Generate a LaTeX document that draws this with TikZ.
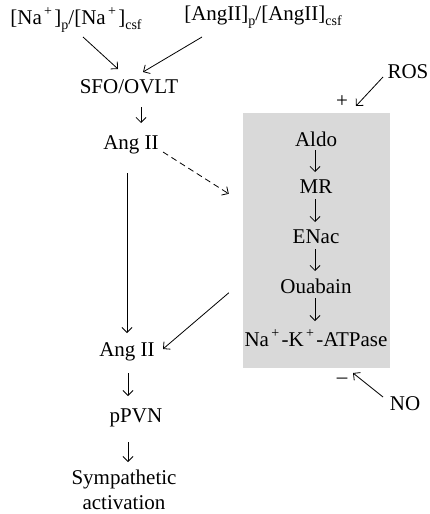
\documentclass[tikz,border=0pt]{standalone}
\usepackage{fontspec}
\setmainfont{Liberation Serif}
\usetikzlibrary{arrows.meta}
\definecolor{boxgray}{RGB}{217,217,217}
\newcommand{\sopl}{\raisebox{0.45em}{\fontsize{14}{14}\selectfont\,+\,}}
\newcommand{\subl}[1]{\raisebox{-0.25em}{\fontsize{14}{14}\selectfont #1}}
\tikzset{
  lbl/.style={inner sep=0pt, font=\fontsize{21}{25}\selectfont},
  conn/.style={line width=0.8pt, -{Straight Barb[length=5pt,width=10pt]}},
  dconn/.style={conn, dash pattern=on 6pt off 4pt},
  graybox/.style={fill=boxgray, draw=none, minimum width=147pt, minimum height=255pt, inner sep=0pt}
}
\begin{document}
\begin{tikzpicture}[x=1pt,y=1pt]
\useasboundingbox (0,0) rectangle (430,-514);
\node[graybox] (box) at (316.5,-240.5) {};
\node[lbl] (na) at (76,-20) {[Na\sopl]\subl{p}/[Na\sopl]\subl{csf}};
\node[lbl] (ang) at (263,-17) {[AngII]\subl{p}/[AngII]\subl{csf}};
\node[lbl] (sfo) at (129,-87) {SFO/OVLT};
\node[lbl] (ang1) at (131,-145) {Ang II};
\node[lbl] (ang2) at (127,-352) {Ang II};
\node[lbl] (ppvn) at (136,-418) {pPVN};
\node[lbl, align=center] (sym) at (124,-490) {Sympathetic\\activation};
\node[lbl] (aldo) at (316,-139) {Aldo};
\node[lbl] (mr) at (316,-187) {MR};
\node[lbl] (enac) at (316,-237) {ENac};
\node[lbl] (oua) at (316,-286) {Ouabain};
\node[lbl] (nka) at (316,-338) {Na\sopl-K\sopl-ATPase};
\node[lbl] (ros) at (408,-72) {ROS};
\node[lbl] (plus) at (342,-102) {+};
\node[lbl] (minus) at (342,-381) {\textendash};
\node[lbl] (no) at (405,-404) {NO};
% connectors
\draw[conn] ([shift={(7,-17)}]na.center) -- ([shift={(-11,18)}]sfo.center);
\draw[conn] ([shift={(-61,-20)}]ang.center) -- ([shift={(14,15)}]sfo.center);
\draw[conn] ([shift={(12,-20)}]sfo.center) -- ([shift={(10,22)}]ang1.center);
\draw[dconn] ([shift={(32,-7)}]ang1.center) -- ([shift={(-14,-81)}]box.north west);
\draw[conn] ([shift={(-4,-28)}]ang1.center) -- ([shift={(0,19)}]ang2.center);
\draw[conn] ([shift={(-14,-180)}]box.north west) -- ([shift={(36,3)}]ang2.center);
\draw[conn] ([shift={(1,-21)}]ang2.center) -- ([shift={(-8,22)}]ppvn.center);
\draw[conn] ([shift={(-8,-24)}]ppvn.center) -- ([shift={(4,28)}]sym.center);
\draw[conn] ([shift={(-1,-11)}]aldo.center) -- ([shift={(-1,15)}]mr.center);
\draw[conn] ([shift={(-1,-12)}]mr.center) -- ([shift={(-1,15)}]enac.center);
\draw[conn] ([shift={(-1,-12)}]enac.center) -- ([shift={(-1,15)}]oua.center);
\draw[conn] ([shift={(-1,-12)}]oua.center) -- ([shift={(-1,17)}]nka.center);
\draw[conn] ([shift={(-25,-5)}]ros.center) -- ([shift={(14,-4)}]plus.center);
\draw[conn] ([shift={(-22,7)}]no.center) -- ([shift={(11,8)}]minus.center);
\end{tikzpicture}
\end{document}
